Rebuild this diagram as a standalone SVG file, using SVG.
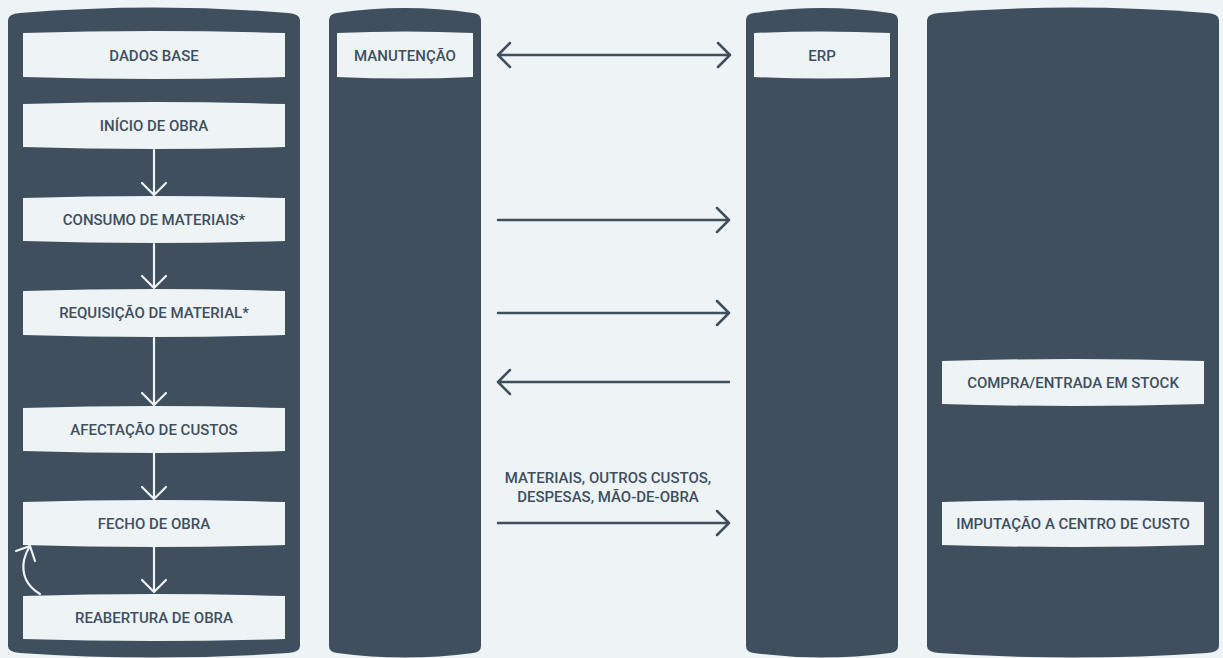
<svg xmlns="http://www.w3.org/2000/svg" width="1223" height="658" viewBox="0 0 1223 658">
<style>
.col{fill:#3f4f5e}
.box{fill:#eef3f6}
.t{font-family:Roboto,"Liberation Sans",sans-serif;font-size:15px;font-weight:500;fill:#3f4f5e;text-anchor:middle;dominant-baseline:central}
.da{stroke:#3f4f5e;stroke-width:2.5;fill:none;stroke-linecap:round;stroke-linejoin:round}
.wa{stroke:#eef3f6;stroke-width:2.2;fill:none;stroke-linecap:round;stroke-linejoin:round}
</style>
<rect width="1223" height="658" fill="#eef3f6"/>
<g id="col-obra"><path class="col" d="M8,20 Q8,14 20,13 Q154,2 288,13 Q300,14 300,20 L300,646 Q300,652 288,653 Q154,662 20,653 Q8,652 8,646 Z"/></g>
<g id="col-manutencao"><path class="col" d="M329,20 Q329,14 337,13 Q405,3 473,13 Q481,14 481,20 L481,646 Q481,652 473,653 Q405,662 337,653 Q329,652 329,646 Z"/></g>
<g id="col-erp"><path class="col" d="M746,20 Q746,14 754,13 Q822,3 890,13 Q898,14 898,20 L898,646 Q898,652 890,653 Q822,662 754,653 Q746,652 746,646 Z"/></g>
<g id="col-externo"><path class="col" d="M927,20 Q927,14 939,13 Q1073,2 1207,13 Q1219,14 1219,20 L1219,646 Q1219,652 1207,653 Q1073,662 939,653 Q927,652 927,646 Z"/></g>

<g id="n-dados-base"><path class="box" d="M23,33 Q154,29 285,33 L285,77 Q154,81 23,77 Z"/><text class="t" x="154" y="56">DADOS BASE</text></g>
<g id="n-inicio"><path class="box" d="M23,104 Q154,100 285,104 L285,147 Q154,151 23,147 Z"/><text class="t" x="154" y="126">INÍCIO DE OBRA</text></g>
<g id="n-consumo"><path class="box" d="M23,198 Q154,194 285,198 L285,241 Q154,245 23,241 Z"/><text class="t" x="154" y="220">CONSUMO DE MATERIAIS*</text></g>
<g id="n-requisicao"><path class="box" d="M23,291 Q154,287 285,291 L285,335 Q154,339 23,335 Z"/><text class="t" x="154" y="313">REQUISIÇÃO DE MATERIAL*</text></g>
<g id="n-afectacao"><path class="box" d="M23,408 Q154,404 285,408 L285,451 Q154,455 23,451 Z"/><text class="t" x="154" y="430">AFECTAÇÃO DE CUSTOS</text></g>
<g id="n-fecho"><path class="box" d="M23,502 Q154,498 285,502 L285,545 Q154,549 23,545 Z"/><text class="t" x="154" y="524">FECHO DE OBRA</text></g>
<g id="n-reabertura"><path class="box" d="M23,596 Q154,592 285,596 L285,639 Q154,643 23,639 Z"/><text class="t" x="154" y="618">REABERTURA DE OBRA</text></g>
<g id="n-manutencao"><path class="box" d="M337,33 Q405,30 473,33 L473,77 Q405,80 337,77 Z"/><text class="t" x="405" y="56">MANUTENÇÃO</text></g>
<g id="n-erp"><path class="box" d="M754,33 Q822,30 890,33 L890,77 Q822,80 754,77 Z"/><text class="t" x="822" y="56">ERP</text></g>
<g id="n-compra"><path class="box" d="M942,361 Q1073,357 1204,361 L1204,404 Q1073,408 942,404 Z"/><text class="t" x="1073" y="383">COMPRA/ENTRADA EM STOCK</text></g>
<g id="n-imputacao"><path class="box" d="M942,502 Q1073,498 1204,502 L1204,545 Q1073,549 942,545 Z"/><text class="t" x="1073" y="524">IMPUTAÇÃO A CENTRO DE CUSTO</text></g>

<g id="connectors">
<path class="wa" d="M154,150 V195 M142,183 L154,195 L166,183"/>
<path class="wa" d="M154,244 V288 M142,276 L154,288 L166,276"/>
<path class="wa" d="M154,338 V405 M142,393 L154,405 L166,393"/>
<path class="wa" d="M154,453 V499 M142,487 L154,499 L166,487"/>
<path class="wa" d="M154,547 V592 M142,580 L154,592 L166,580"/>
<path class="wa" d="M40,594 Q20,582 24,560 Q26,552 30,546 M16,551 L30,546 L35,561"/>
<path class="da" d="M498,55 H730 M510,43 L498,55 L510,67 M718,43 L730,55 L718,67"/>
<path class="da" d="M498,220 H729 M717,208 L729,220 L717,232"/>
<path class="da" d="M498,313 H729 M717,301 L729,313 L717,325"/>
<path class="da" d="M498,382 H729 M510,370 L498,382 L510,394"/>
<path class="da" d="M498,523 H729 M717,511 L729,523 L717,535"/>
<text class="t" x="608" y="478">MATERIAIS, OUTROS CUSTOS,</text>
<text class="t" x="608" y="497">DESPESAS, MÃO-DE-OBRA</text>
</g>
</svg>
